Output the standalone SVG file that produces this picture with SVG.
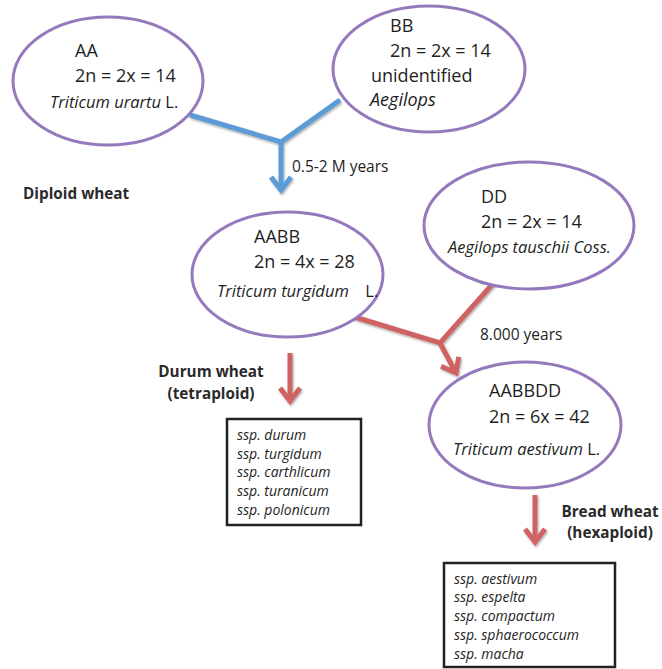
<svg xmlns="http://www.w3.org/2000/svg" width="662" height="669" viewBox="0 0 662 669">
<style>
  .el { fill: #ffffff; stroke: #9479bd; stroke-width: 3; }
  .t { font-family: "Open Sans", "Noto Sans", sans-serif; font-size: 18px; fill: #1e1e1e; }
  .sp { font-family: "Open Sans", "Noto Sans", sans-serif; font-size: 16.5px; font-style: italic; fill: #1e1e1e; }
  .n { font-style: normal; }
  .lab { font-family: "Open Sans", "Noto Sans", sans-serif; font-size: 15.5px; fill: #1e1e1e; }
  .bold { font-family: "Open Sans", "Noto Sans", sans-serif; font-size: 15.3px; font-weight: bold; fill: #2a2a2a; }
  .box { fill: #ffffff; stroke: #222222; stroke-width: 2.5; }
  .bt { font-family: "Open Sans", "Noto Sans", sans-serif; font-size: 14px; font-style: italic; fill: #1e1e1e; }
  .blue { stroke: #5b9bd5; stroke-width: 5; fill: none; }
  .red { stroke: #cf6464; stroke-width: 5; fill: none; }
</style>
<defs>
  <filter id="sh" x="-20%" y="-20%" width="140%" height="140%">
    <feDropShadow dx="1" dy="1.5" stdDeviation="1" flood-color="#000" flood-opacity="0.35"/>
  </filter>
  <marker id="ab" viewBox="-18 -13 22 26" refX="0" refY="0" markerWidth="22" markerHeight="26" markerUnits="userSpaceOnUse" orient="auto">
    <path d="M -13 -10 L 0 0 L -13 10" fill="none" stroke="#5b9bd5" stroke-width="5"/>
  </marker>
  <marker id="ar" viewBox="-18 -13 22 26" refX="0" refY="0" markerWidth="22" markerHeight="26" markerUnits="userSpaceOnUse" orient="auto">
    <path d="M -13 -10 L 0 0 L -13 10" fill="none" stroke="#cf6464" stroke-width="5"/>
  </marker>
</defs>
<rect x="0" y="0" width="662" height="669" fill="#ffffff"/>

<g id="connectors" filter="url(#sh)">
  <polyline class="blue" points="190,115 281,142 340,100"/>
  <line class="blue" x1="281" y1="142" x2="281" y2="190" marker-end="url(#ab)"/>
  <polyline class="red" points="348,315 440,343 498,278"/>
  <line class="red" x1="440" y1="343" x2="456" y2="373" marker-end="url(#ar)"/>
  <line class="red" x1="290" y1="353" x2="290" y2="401" marker-end="url(#ar)"/>
  <line class="red" x1="535" y1="495" x2="535" y2="542" marker-end="url(#ar)"/>
</g>

<g id="node-AA">
  <ellipse class="el" cx="108" cy="81" rx="95" ry="64"/>
  <text class="t" x="75" y="57">AA</text>
  <text class="t" x="75" y="82">2n = 2x = 14</text>
  <text class="sp" x="50" y="108">Triticum urartu<tspan class="n"> L.</tspan></text>
</g>

<g id="node-BB">
  <ellipse class="el" cx="429" cy="69" rx="96" ry="63"/>
  <text class="t" x="390" y="32">BB</text>
  <text class="t" x="390" y="57">2n = 2x = 14</text>
  <text class="t" x="371" y="82">unidentified</text>
  <text class="t" x="370" y="106" font-style="italic">Aegilops</text>
</g>

<g id="node-AABB">
  <ellipse class="el" cx="287.5" cy="274.5" rx="95.5" ry="62.5"/>
  <text class="t" x="254" y="243">AABB</text>
  <text class="t" x="254" y="268">2n = 4x = 28</text>
  <text class="sp" x="217" y="297">Triticum turgidum<tspan class="n" x="361"> L.</tspan></text>
</g>

<g id="node-DD">
  <ellipse class="el" cx="529" cy="225.5" rx="105" ry="63.5"/>
  <text class="t" x="481" y="203">DD</text>
  <text class="t" x="481" y="228">2n = 2x = 14</text>
  <text class="sp" x="448" y="253">Aegilops tauschii Coss.</text>
</g>

<g id="node-AABBDD">
  <ellipse class="el" cx="525" cy="425" rx="96" ry="63"/>
  <text class="t" x="489" y="397">AABBDD</text>
  <text class="t" x="489" y="423">2n = 6x = 42</text>
  <text class="sp" x="453" y="455">Triticum aestivum<tspan class="n"> L.</tspan></text>
</g>

<g id="labels">
  <text class="bold" x="23" y="199">Diploid wheat</text>
  <text class="lab" x="292" y="172">0.5-2 M years</text>
  <text class="lab" x="480" y="340">8.000 years</text>
  <text class="bold" x="211" y="377" text-anchor="middle">Durum wheat</text>
  <text class="bold" x="211" y="399" text-anchor="middle">(tetraploid)</text>
  <text class="bold" x="610" y="517" text-anchor="middle">Bread wheat</text>
  <text class="bold" x="610" y="538" text-anchor="middle">(hexaploid)</text>
</g>

<g id="node-durum-list">
  <rect class="box" x="227" y="419" width="134" height="106"/>
  <text class="bt" x="237" y="440">ssp. durum</text>
  <text class="bt" x="237" y="459">ssp. turgidum</text>
  <text class="bt" x="237" y="477">ssp. carthlicum</text>
  <text class="bt" x="237" y="496">ssp. turanicum</text>
  <text class="bt" x="237" y="515">ssp. polonicum</text>
</g>

<g id="node-bread-list">
  <rect class="box" x="444" y="563" width="171" height="104"/>
  <text class="bt" x="454" y="584">ssp. aestivum</text>
  <text class="bt" x="454" y="602">ssp. espelta</text>
  <text class="bt" x="454" y="621">ssp. compactum</text>
  <text class="bt" x="454" y="640">ssp. sphaerococcum</text>
  <text class="bt" x="454" y="659">ssp. macha</text>
</g>
</svg>
